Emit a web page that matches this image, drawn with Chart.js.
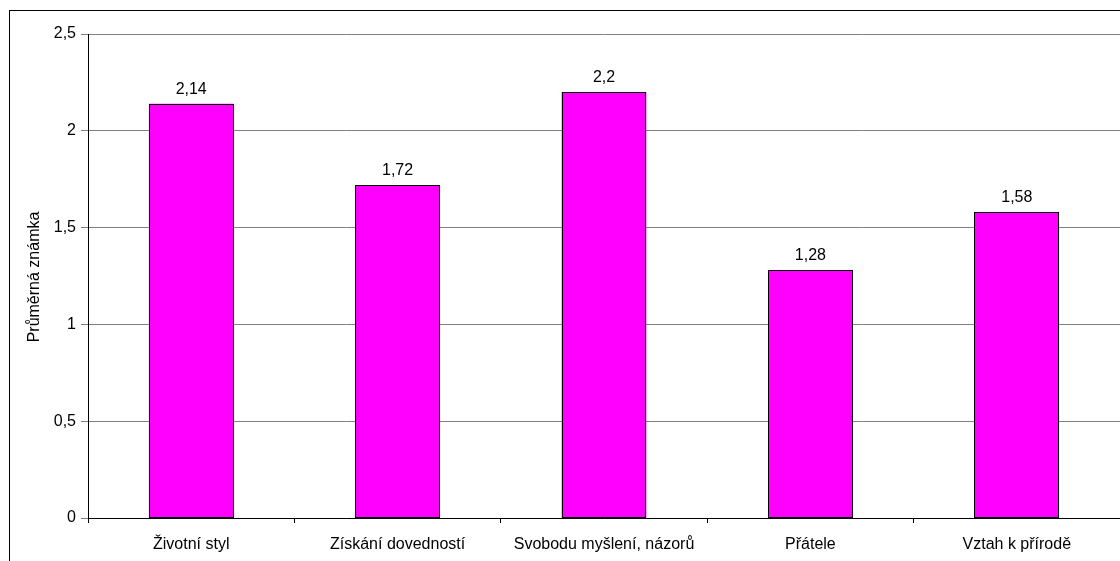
<!DOCTYPE html>
<html>
<head>
<meta charset="utf-8">
<script src="https://cdn.jsdelivr.net/npm/chart.js@4/dist/chart.umd.min.js"></script>
<style>
  html, body { margin: 0; padding: 0; background: #fff; }
  #wrap { position: relative; width: 1120px; height: 561px; }
  #frame { position: absolute; left: 9px; top: 10px; right: -5px; bottom: -5px; border-left: 1px solid #000; border-top: 1px solid #000; pointer-events: none; }
</style>
</head>
<body>
<div id="wrap">
  <canvas id="chart" width="1120" height="561"></canvas>
  <div id="frame"></div>
</div>
<script>
const categories = ['Životní styl', 'Získání dovedností', 'Svobodu myšlení, názorů', 'Přátele', 'Vztah k přírodě'];
const values = [2.14, 1.72, 2.2, 1.28, 1.58];
const yTicks = [0, 0.5, 1, 1.5, 2, 2.5];
const yTitle = 'Průměrná známka';

function fmt(v) {
    return String(v).replace('.', ',');
}

const extraText = {
    id: 'extraText',
    afterDatasetsDraw(chart) {
        const ctx = chart.ctx;
        ctx.save();
        // crisp black outline round each bar
        ctx.strokeStyle = '#000';
        ctx.lineWidth = 1;
        chart.getDatasetMeta(0).data.forEach(bar => {
            const l = Math.round(bar.x - bar.width / 2) + 0.5;
            const r = Math.round(bar.x + bar.width / 2) - 0.5;
            const t = Math.round(bar.y) + 0.5;
            const b = Math.round(bar.base) - 0.5;
            ctx.strokeRect(l, t, r - l, b - t);
        });
        ctx.font = '16px "Liberation Sans", Arial, sans-serif';
        ctx.fillStyle = '#000';
        ctx.textAlign = 'center';
        ctx.textBaseline = 'alphabetic';
        chart.getDatasetMeta(0).data.forEach((bar, i) => {
            ctx.fillText(fmt(values[i]), bar.x, bar.y - 10);
        });
        // y axis title
        const a = chart.chartArea;
        ctx.translate(35, (a.top + a.bottom) / 2 + 1);
        ctx.rotate(-Math.PI / 2);
        ctx.textBaseline = 'middle';
        ctx.fillText(yTitle, 0, 0);
        ctx.restore();
    }
};

Chart.defaults.font.family = '"Liberation Sans", Arial, sans-serif';
Chart.defaults.font.size = 16;
Chart.defaults.color = '#000';

new Chart(document.getElementById('chart').getContext('2d'), {
    type: 'bar',
    data: {
        labels: categories,
        datasets: [{
            data: values,
            backgroundColor: '#FF00FF',
            borderWidth: 0,
            categoryPercentage: 1,
            barPercentage: 0.41
        }]
    },
    options: {
        responsive: false,
        animation: false,
        layout: { padding: { top: 34, right: 0, left: 0, bottom: 0 } },
        plugins: {
            legend: { display: false },
            tooltip: { enabled: false }
        },
        scales: {
            x: {
                offset: true,
                grid: { display: true, drawOnChartArea: false, offset: true, tickLength: 5, color: '#000' },
                border: { color: '#000' },
                ticks: { padding: 12, maxRotation: 0 },
                afterFit(scale) { scale.height = 43; }
            },
            y: {
                min: 0,
                max: 2.5,
                afterBuildTicks(scale) { scale.ticks = yTicks.map(v => ({ value: v })); },
                grid: { color: '#808080', tickLength: 7 },
                border: { color: '#000' },
                ticks: { padding: 5, callback: v => fmt(v) },
                afterFit(scale) { scale.width = 88; }
            }
        }
    },
    plugins: [extraText]
});
</script>
</body>
</html>
